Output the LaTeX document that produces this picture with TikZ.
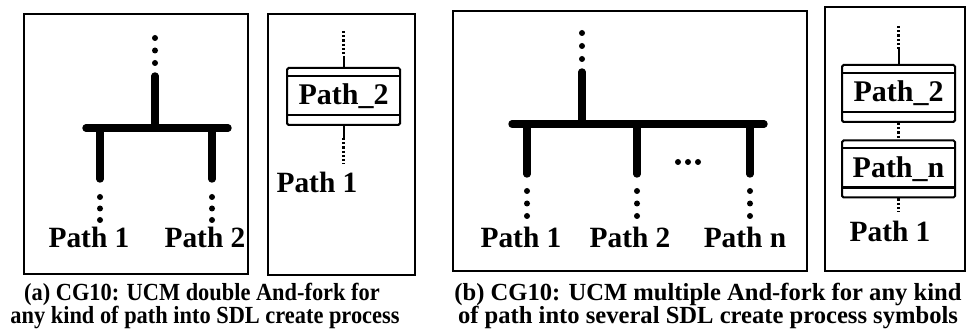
\documentclass[tikz,border=0pt]{standalone}
\usepackage{fontspec}
\setmainfont{Liberation Serif}
\usepackage{tikz}
\usetikzlibrary{positioning, calc}
\tikzset{
  panel/.style   = {draw, line width=1.3pt},
  ucm/.style     = {line width=3.7pt, line cap=round},
  pdot/.style    = {circle, fill=black, inner sep=0pt, minimum size=3pt},
  link/.style    = {line width=1pt},
  dotlink/.style = {line width=1.1pt, densely dotted},
  plabel/.style  = {anchor=base, font=\fontsize{14.7}{16}\selectfont\bfseries},
  capt/.style    = {anchor=base, font=\fontsize{12.3}{14}\selectfont\bfseries},
  create/.style  = {draw, line width=1pt, rounded corners=0.8pt, minimum width=56.5pt, minimum height=28.5pt,
                    inner sep=0pt, font=\fontsize{15}{17}\selectfont\bfseries,
                    path picture={
                      \draw[line width=1pt] ([yshift=-4pt]path picture bounding box.north west) -- ([yshift=-4pt]path picture bounding box.north east);
                      \draw[line width=1.2pt] ([yshift=5pt]path picture bounding box.south west) -- ([yshift=5pt]path picture bounding box.south east);
                    }},
}

\begin{document}
\begin{tikzpicture}[x=0.5pt, y=-0.5pt]
  % 统一边界框
  \useasboundingbox (0,0) rectangle (967,335);

  % (a) 双分支 And-fork
  \draw[panel] (24,14) rectangle (248,274);
  \foreach \y in {38,50.5,63} \node[pdot] at (155,\y) {};
  \coordinate (a_in) at (155,76);
  \coordinate (a_fork) at (155,128);
  \coordinate (a_bl) at (86,128);
  \coordinate (a_br) at (228,128);
  \draw[ucm] (a_in) -- (a_fork);
  \draw[ucm] (a_bl) -- (a_br);
  \foreach \x/\n in {100/1, 212/2} {
    \coordinate (a_top\n) at (\x,128);
    \coordinate (a_end\n) at (\x,179);
    \draw[ucm] (a_top\n) -- (a_end\n);
    \foreach \y in {197,208.5,220} \node[pdot] at (\x,\y) {};
  }
  \node[plabel] (a_p1) at (89,248) {Path 1};
  \node[plabel] (a_p2) at (205,248) {Path 2};

  \draw[panel] (268,14) rectangle (415,275);
  \node[create] (a_c2) at (343.5,96.5) {Path\_2};
  \coordinate[above=5.5pt of a_c2.north] (a_c2mid);
  \coordinate[above=12.5pt of a_c2mid] (a_c2in);
  \coordinate[below=6pt of a_c2.south] (a_c2out);
  \coordinate[below=13pt of a_c2out] (a_c2end);
  \draw[dotlink] (a_c2in) -- (a_c2mid);
  \draw[link] (a_c2mid) -- (a_c2.north);
  \draw[link] (a_c2.south) -- (a_c2out);
  \draw[dotlink] (a_c2out) -- (a_c2end);
  \node[plabel] (a_q1) at (317,193) {Path 1};

  % (b) 多分支 And-fork
  \draw[panel] (453,11) rectangle (807,271);
  \foreach \y in {33,46,59} \node[pdot] at (582,\y) {};
  \coordinate (b_in) at (582,72);
  \coordinate (b_fork) at (582,124);
  \coordinate (b_bl) at (512,124);
  \coordinate (b_br) at (764,124);
  \draw[ucm] (b_in) -- (b_fork);
  \draw[ucm] (b_bl) -- (b_br);
  \foreach \x/\n in {527/1, 637/2, 750/n} {
    \coordinate (b_top\n) at (\x,124);
    \coordinate (b_end\n) at (\x,174);
    \draw[ucm] (b_top\n) -- (b_end\n);
    \foreach \y in {191,203.5,216} \node[pdot] at (\x,\y) {};
  }
  \foreach \x in {678,688,698} \node[pdot] at (\x,162) {};
  \node[plabel] (b_p1) at (521,248) {Path 1};
  \node[plabel] (b_p2) at (630,248) {Path 2};
  \node[plabel] (b_pn) at (745,248) {Path n};

  \draw[panel] (825,7) rectangle (965,271);
  \node[create] (b_c2) at (898.5,93.5) {Path\_2};
  \node[create] (b_cn) at (898.5,169) {Path\_n};
  \coordinate[above=7.5pt of b_c2.north] (b_c2mid);
  \coordinate[above=11.5pt of b_c2mid] (b_c2in);
  \coordinate[below=7pt of b_cn.south] (b_cnend);
  \draw[dotlink] (b_c2in) -- (b_c2mid);
  \draw[link] (b_c2mid) -- (b_c2.north);
  \draw[dotlink] (b_c2.south) -- (b_cn.north);
  \draw[dotlink] (b_cn.south) -- (b_cnend);
  \node[plabel] (b_q1) at (890,242) {Path 1};

  % 图题
  \node[capt] (cap_a1) at (202,301) {\scalebox{0.91}[1]{(a) CG10: UCM double And-fork for}};
  \node[capt] (cap_a2) at (205,324) {\scalebox{0.91}[1]{any kind of path into SDL create process}};
  \node[capt] (cap_b1) at (708,301) {(b) CG10: UCM multiple And-fork for any kind};
  \node[capt] (cap_b2) at (708,324) {of path into several SDL create process symbols};
\end{tikzpicture}
\end{document}
